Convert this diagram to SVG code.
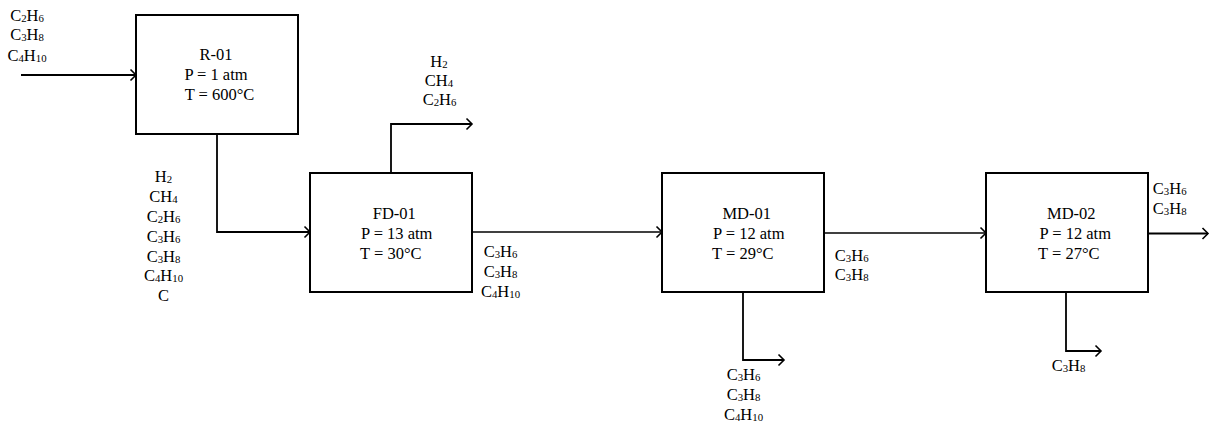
<svg xmlns="http://www.w3.org/2000/svg" width="1214" height="425" viewBox="0 0 1214 425">
<defs>
<style>
.box{fill:#fff;stroke:#000;stroke-width:2}
.ln{fill:none;stroke:#000;stroke-width:1.8;marker-end:url(#ah)}
.thin{stroke-width:1.3}
text{font-family:"Liberation Serif","Times New Roman",serif;font-size:16.5px;fill:#000;text-anchor:middle}
.s{font-size:10.8px}
</style>
<marker id="ah" markerUnits="userSpaceOnUse" markerWidth="12" markerHeight="14" refX="0" refY="0" viewBox="-7 -7 9 14" orient="auto" overflow="visible">
<path d="M-5.5,-5.5 L0,0 L-5.5,5.5" fill="none" stroke="#000" stroke-width="1.6"/>
</marker>
</defs>
<rect width="1214" height="425" fill="#fff"/>
<g id="connectors">
<path class="ln" d="M21,75 H136"/>
<path class="ln" d="M217,134 V232 H310"/>
<path class="ln" d="M391,173 V124 H472"/>
<path class="ln thin" d="M472,232 H662"/>
<path class="ln" d="M743,292 V360 H784"/>
<path class="ln thin" d="M824,233 H986"/>
<path class="ln" d="M1148,233.5 H1208"/>
<path class="ln" d="M1066,292 V351 H1101"/>
</g>
<g id="R-01">
<rect class="box" x="136" y="15" width="162" height="119"/>
<text x="216" y="60">R-01</text>
<text x="216" y="80">P = 1 atm</text>
<text x="219.5" y="100">T = 600°C</text>
</g>
<g id="FD-01">
<rect class="box" x="310" y="173" width="162" height="119"/>
<text x="394.3" y="218.5">FD-01</text>
<text x="396.7" y="238.5">P = 13 atm</text>
<text x="390.8" y="258.5">T = 30°C</text>
</g>
<g id="MD-01">
<rect class="box" x="662" y="173" width="162" height="119"/>
<text x="746.7" y="218.5">MD-01</text>
<text x="748.8" y="238.5">P = 12 atm</text>
<text x="742.8" y="258.5">T = 29°C</text>
</g>
<g id="MD-02">
<rect class="box" x="986" y="173" width="162" height="119"/>
<text x="1071.3" y="218.5">MD-02</text>
<text x="1075.3" y="238.5">P = 12 atm</text>
<text x="1068.8" y="258.5">T = 27°C</text>
</g>
<g id="labels">
<text x="27" y="20.5">C<tspan class="s" dy="1">2</tspan><tspan dy="-1">H</tspan><tspan class="s" dy="1">6</tspan></text>
<text x="27" y="40">C<tspan class="s" dy="1">3</tspan><tspan dy="-1">H</tspan><tspan class="s" dy="1">8</tspan></text>
<text x="27" y="60.5">C<tspan class="s" dy="1">4</tspan><tspan dy="-1">H</tspan><tspan class="s" dy="1">10</tspan></text>

<text x="163.5" y="182">H<tspan class="s" dy="1">2</tspan></text>
<text x="163.5" y="202">CH<tspan class="s" dy="1">4</tspan></text>
<text x="163.5" y="222">C<tspan class="s" dy="1">2</tspan><tspan dy="-1">H</tspan><tspan class="s" dy="1">6</tspan></text>
<text x="163.5" y="241.5">C<tspan class="s" dy="1">3</tspan><tspan dy="-1">H</tspan><tspan class="s" dy="1">6</tspan></text>
<text x="163.5" y="261.5">C<tspan class="s" dy="1">3</tspan><tspan dy="-1">H</tspan><tspan class="s" dy="1">8</tspan></text>
<text x="163.5" y="281">C<tspan class="s" dy="1">4</tspan><tspan dy="-1">H</tspan><tspan class="s" dy="1">10</tspan></text>
<text x="163.5" y="301">C</text>

<text x="439" y="67">H<tspan class="s" dy="1">2</tspan></text>
<text x="439" y="86">CH<tspan class="s" dy="1">4</tspan></text>
<text x="439.5" y="105">C<tspan class="s" dy="1">2</tspan><tspan dy="-1">H</tspan><tspan class="s" dy="1">6</tspan></text>

<text x="500.5" y="257">C<tspan class="s" dy="1">3</tspan><tspan dy="-1">H</tspan><tspan class="s" dy="1">6</tspan></text>
<text x="500.5" y="277">C<tspan class="s" dy="1">3</tspan><tspan dy="-1">H</tspan><tspan class="s" dy="1">8</tspan></text>
<text x="500.5" y="297">C<tspan class="s" dy="1">4</tspan><tspan dy="-1">H</tspan><tspan class="s" dy="1">10</tspan></text>

<text x="743.5" y="380">C<tspan class="s" dy="1">3</tspan><tspan dy="-1">H</tspan><tspan class="s" dy="1">6</tspan></text>
<text x="743.5" y="400">C<tspan class="s" dy="1">3</tspan><tspan dy="-1">H</tspan><tspan class="s" dy="1">8</tspan></text>
<text x="743.5" y="420">C<tspan class="s" dy="1">4</tspan><tspan dy="-1">H</tspan><tspan class="s" dy="1">10</tspan></text>

<text x="851.7" y="260.5">C<tspan class="s" dy="1">3</tspan><tspan dy="-1">H</tspan><tspan class="s" dy="1">6</tspan></text>
<text x="851.7" y="280">C<tspan class="s" dy="1">3</tspan><tspan dy="-1">H</tspan><tspan class="s" dy="1">8</tspan></text>

<text x="1169.7" y="193.5">C<tspan class="s" dy="1">3</tspan><tspan dy="-1">H</tspan><tspan class="s" dy="1">6</tspan></text>
<text x="1169.7" y="213.5">C<tspan class="s" dy="1">3</tspan><tspan dy="-1">H</tspan><tspan class="s" dy="1">8</tspan></text>

<text x="1068.5" y="371">C<tspan class="s" dy="1">3</tspan><tspan dy="-1">H</tspan><tspan class="s" dy="1">8</tspan></text>
</g>
</svg>
